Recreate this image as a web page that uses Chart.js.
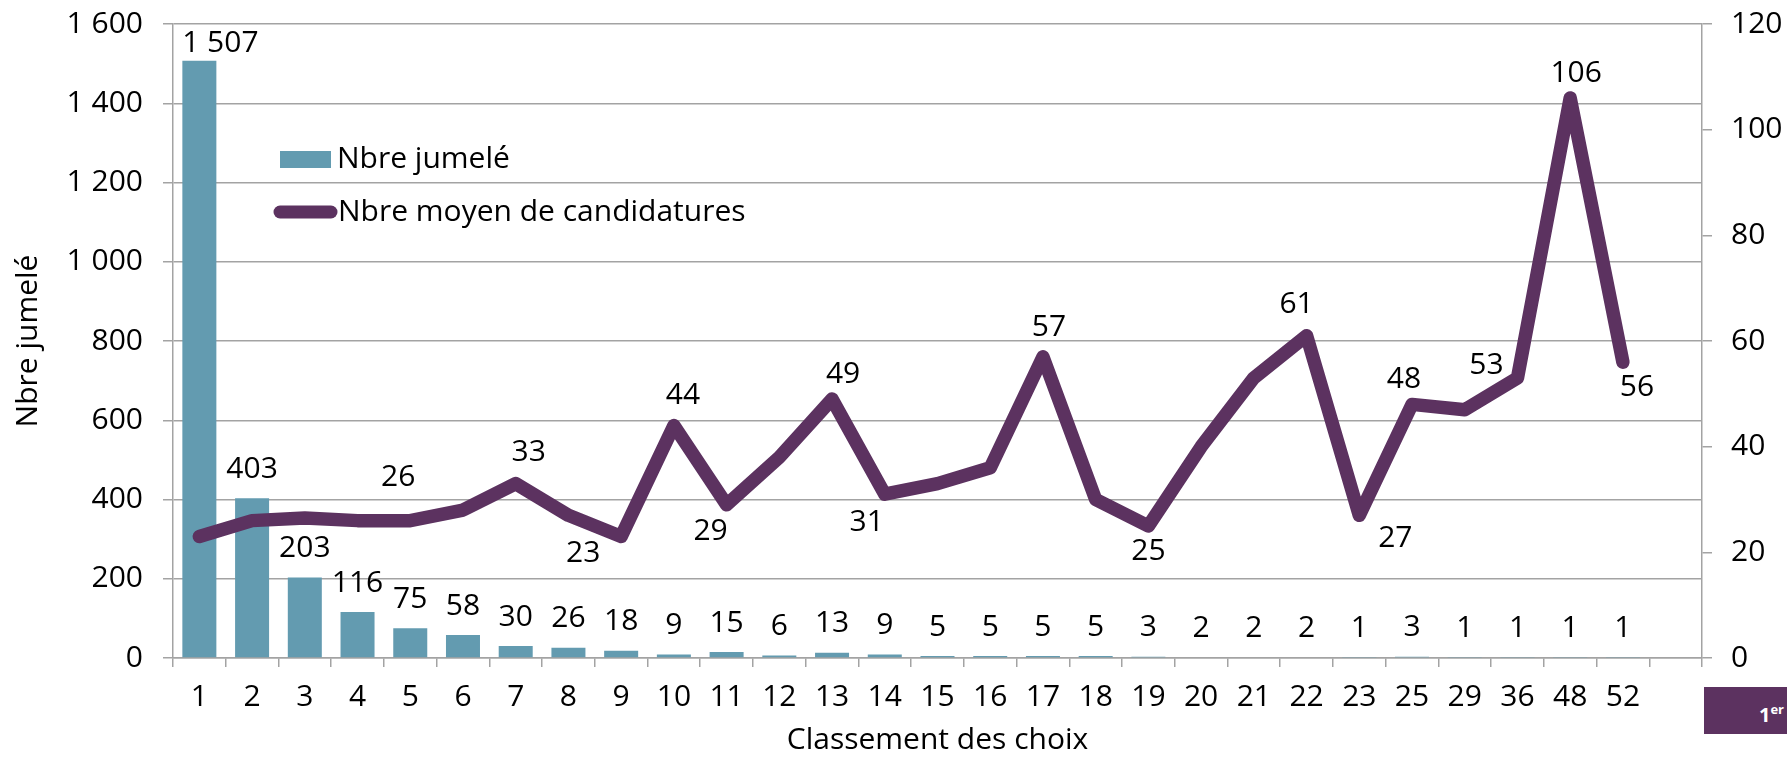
<!DOCTYPE html>
<html lang="fr">
<head>
<meta charset="utf-8">
<title>Classement des choix</title>
<script src="https://cdn.jsdelivr.net/npm/chart.js@4.4.1/dist/chart.umd.min.js"></script>
<style>
  html, body { margin: 0; padding: 0; background: #fff; }
  #wrap { position: relative; width: 1787px; height: 758px; }
  #badge {
    position: absolute; left: 1704px; top: 687px; width: 80px; height: 47px; padding-right: 3px;
    background: #5c3260; color: #fff; font: bold 20px "Open Sans", sans-serif;
    line-height: 44px; text-align: right;
  }
  #badge sup { font-size: 13px; }
</style>
</head>
<body>
<div id="wrap">
  <canvas id="c"></canvas>
  <div id="badge">1<sup>er</sup></div>
</div>
<script>
// rang du choix
const categories = ['1', '2', '3', '4', '5', '6', '7', '8', '9', '10', '11', '12', '13', '14', '15',
  '16', '17', '18', '19', '20', '21', '22', '23', '25', '29', '36', '48', '52', ''];
// Nbre jumelé (axe de gauche)
const nbreJumele = [1507, 403, 203, 116, 75, 58, 30, 26, 18, 9, 15, 6, 13, 9, 5, 5, 5, 5, 3, 2,
  2, 2, 1, 3, 1, 1, 1, 1, null];
// Nbre moyen de candidatures (axe de droite)
const nbreMoyen = [23, 26, 26.5, 26, 26, 28, 33, 27, 23, 44, 29, 38, 49, 31, 33, 36, 57, 30, 25, 40,
  53, 61, 27, 48, 47, 53, 106, 56, null];
const leftMax = 1600, leftStep = 200;
const rightMax = 120, rightStep = 20;

const BAR = '#639bb0';
const LINE = '#5c3260';
const GRID = '#a3a3a3';
const FONT = '"Open Sans", sans-serif';
const SIZE = 30;

// étiquettes de la courbe : index -> décalage [dx, dy] par rapport au point
const lineLabelOffsets = {
  4: [-12, -43], 6: [13, -31], 8: [-38, 17], 9: [9, -30], 10: [-16, 27], 12: [11, -25],
  13: [-18, 28], 16: [6, -29], 18: [0, 26], 21: [-10, -31], 22: [36, 23], 23: [-8, -25],
  25: [-31, -13], 26: [6, -25], 27: [14, 25]
};

function fmt(v) {
  return String(v).replace(/\B(?=(\d{3})+(?!\d))/g, '\u00a0');
}

// les axes verticaux ne doivent pas repousser la zone du graphique
function fixWidth(w) {
  return scale => {
    scale.width = w;
    scale.paddingTop = 0;
    scale.paddingBottom = 0;
  };
}

const valueLabels = {
  id: 'valueLabels',
  afterDatasetsDraw(chart) {
    const ctx = chart.ctx;
    ctx.save();
    ctx.font = SIZE + 'px ' + FONT;
    ctx.fillStyle = '#000';
    ctx.textAlign = 'center';
    ctx.textBaseline = 'middle';
    chart.getDatasetMeta(0).data.forEach((bar, i) => {
      if (nbreJumele[i] == null) return;
      // la première étiquette est décalée pour rester dans le cadre
      if (i === 0) ctx.fillText(fmt(nbreJumele[i]), bar.x + 21, bar.y - 17);
      else ctx.fillText(fmt(nbreJumele[i]), bar.x, bar.y - 29);
    });
    const pts = chart.getDatasetMeta(1).data;
    Object.keys(lineLabelOffsets).forEach(k => {
      const p = pts[k], off = lineLabelOffsets[k];
      ctx.fillText(fmt(nbreMoyen[k]), p.x + off[0], p.y + off[1]);
    });

    // légende dans la zone du graphique
    ctx.textAlign = 'left';
    ctx.fillStyle = BAR;
    ctx.fillRect(280, 151, 51, 17);
    ctx.fillStyle = '#000';
    ctx.fillText('Nbre jumelé', 337, 159);
    ctx.strokeStyle = LINE;
    ctx.lineWidth = 13;
    ctx.lineCap = 'round';
    ctx.beginPath();
    ctx.moveTo(280, 212);
    ctx.lineTo(331, 212);
    ctx.stroke();
    ctx.fillText('Nbre moyen de candidatures', 338, 212);
    ctx.restore();
  }
};

Chart.defaults.font.family = FONT;
Chart.defaults.font.size = SIZE;
Chart.defaults.color = '#000';

new Chart(document.getElementById('c'), {
  type: 'bar',
  data: {
    labels: categories,
    datasets: [{
      label: 'Nbre jumelé',
      data: nbreJumele,
      backgroundColor: BAR,
      barPercentage: 0.645,
      categoryPercentage: 1,
      yAxisID: 'y',
      order: 2
    }, {
      type: 'line',
      label: 'Nbre moyen de candidatures',
      data: nbreMoyen,
      borderColor: LINE,
      backgroundColor: LINE,
      borderWidth: 13.5,
      borderJoinStyle: 'round',
      borderCapStyle: 'round',
      pointRadius: 0,
      tension: 0,
      yAxisID: 'y1',
      order: 1
    }]
  },
  options: {
    responsive: true,
    maintainAspectRatio: false,
    animation: false,
    layout: { padding: { top: 24, left: 0, right: 0, bottom: 0 } },
    plugins: { legend: { display: false }, tooltip: { enabled: false } },
    scales: {
      x: {
        grid: { offset: true, drawOnChartArea: false, color: GRID, lineWidth: 1.5, tickLength: 9 },
        border: { color: GRID, width: 1.5 },
        ticks: { autoSkip: false, maxRotation: 0, padding: 12 },
        title: { display: true, text: 'Classement des choix', padding: { top: 0, bottom: 0 } },
        afterFit(scale) { scale.height = 100; }
      },
      y: {
        position: 'left',
        min: 0, max: leftMax,
        grid: { color: GRID, lineWidth: 1.5, tickLength: 10 },
        border: { color: GRID, width: 1.5 },
        ticks: { stepSize: leftStep, padding: 20, callback: v => fmt(v) },
        title: { display: true, text: 'Nbre jumelé', padding: { top: 10, bottom: 0 } },
        afterFit: fixWidth(173)
      },
      y1: {
        position: 'right',
        min: 0, max: rightMax,
        grid: { drawOnChartArea: false, color: GRID, lineWidth: 1.5, tickLength: 10 },
        border: { color: GRID, width: 1.5 },
        ticks: { stepSize: rightStep, padding: 19 },
        afterFit: fixWidth(85)
      }
    }
  },
  plugins: [valueLabels]
});
</script>
</body>
</html>
